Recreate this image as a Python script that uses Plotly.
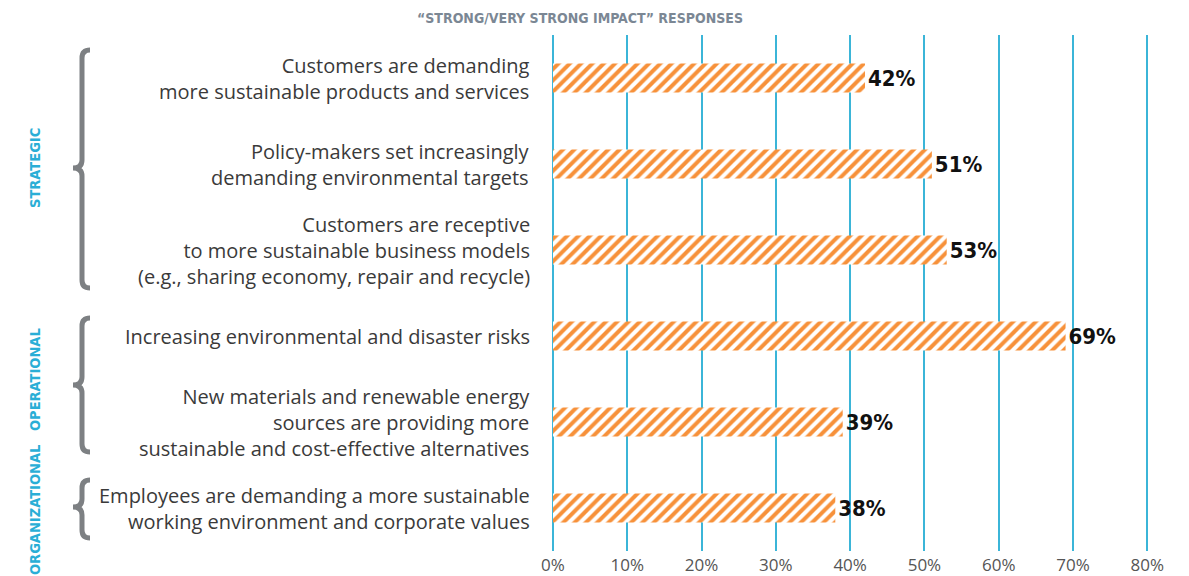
import plotly.graph_objects as go

categories = [
    "Customers are demanding<br>more sustainable products and services",
    "Policy-makers set increasingly<br>demanding environmental targets",
    "Customers are receptive<br>to more sustainable business models<br>(e.g., sharing economy, repair and recycle)",
    "Increasing environmental and disaster risks",
    "New materials and renewable energy<br>sources are providing more<br>sustainable and cost-effective alternatives",
    "Employees are demanding a more sustainable<br>working environment and corporate values",
]
values = [42, 51, 53, 69, 39, 38]
value_labels = ["42%", "51%", "53%", "69%", "39%", "38%"]
tick_vals = [0, 10, 20, 30, 40, 50, 60, 70, 80]
tick_text = ["0%", "10%", "20%", "30%", "40%", "50%", "60%", "70%", "80%"]
groups = ["STRATEGIC", "OPERATIONAL", "ORGANIZATIONAL"]

W, H = 1189, 576
L, T = 553, 35
PW = 598
PH = 516
R = W - L - PW
B = H - T - PH

def px(x):
    return (x - L) / PW

def py(y):
    return 1 - (y - T) / PH

NARROW = "DejaVu Sans Condensed"

fig = go.Figure()
ids = list(range(len(categories)))
fig.add_trace(go.Bar(
    y=ids, x=values, orientation="h", width=0.34,
    marker=dict(color="white", line=dict(width=0),
                pattern=dict(shape="/", fgcolor="#f7913a", bgcolor="white", fgopacity=1,
                             fillmode="replace", size=8, solidity=0.5)),
    text=value_labels, texttemplate="<b>%{text}</b>", textposition="outside", cliponaxis=False,
    textfont=dict(family=NARROW, size=22, color="#111111"),
    hoverinfo="skip",
))

annotations = []
for i, c in enumerate(categories):
    annotations.append(dict(x=0, xref="paper", y=i, yref="y", xanchor="right", yanchor="middle",
                            xshift=-21, text=c, showarrow=False, align="right",
                            font=dict(family="Open Sans", size=20, color="#3a3a3a")))

group_pos = [(35, 168), (35, 380), (35, 510)]
for g, (gx, gy) in zip(groups, group_pos):
    annotations.append(dict(x=px(gx), xref="paper", y=py(gy), yref="paper", text="<b>" + g + "</b>",
                            showarrow=False, textangle=-90, xanchor="center", yanchor="middle",
                            font=dict(family=NARROW, size=14.5, color="#2aaed6")))

annotations.append(dict(x=px(580), xref="paper", y=py(18), yref="paper",
                        text="<b>\u201cSTRONG/VERY STRONG IMPACT\u201d RESPONSES</b>",
                        showarrow=False, xanchor="center", yanchor="middle",
                        font=dict(family=NARROW, size=14, color="#7b8794")))

def brace(top, tip, bot, xv=82, xt=73, xe=90):
    pts = (f"M {px(xe)},{py(top)} Q {px(xv)},{py(top)} {px(xv)},{py(top+8)} "
           f"L {px(xv)},{py(tip-8)} Q {px(xv)},{py(tip)} {px(xt)},{py(tip)} "
           f"Q {px(xv)},{py(tip)} {px(xv)},{py(tip+8)} "
           f"L {px(xv)},{py(bot-8)} Q {px(xv)},{py(bot)} {px(xe)},{py(bot)}")
    return dict(type="path", xref="paper", yref="paper", path=pts,
                line=dict(color="#7d8083", width=5))

shapes = [brace(50, 168, 288), brace(318, 385, 452), brace(480, 507, 538)]

fig.update_layout(
    width=W, height=H,
    margin=dict(l=L, r=R, t=T, b=B),
    paper_bgcolor="white", plot_bgcolor="white",
    showlegend=False,
    bargap=0.66,
    xaxis=dict(range=[0, 80.5], tickvals=tick_vals, ticktext=tick_text, automargin=False,
               showgrid=True, gridcolor="#3bb5d8", gridwidth=1.5,
               zeroline=True, zerolinecolor="#3bb5d8", zerolinewidth=1.5,
               showline=False, ticks="", ticklabelstandoff=2,
               tickfont=dict(family="Open Sans", size=17, color="#555555")),
    yaxis=dict(range=[5.5, -0.5], showticklabels=False, showgrid=False, zeroline=False,
               showline=False, automargin=False),
    annotations=annotations, shapes=shapes,
)

fig.write_html("out.html", config={"displayModeBar": False},
               post_script="document.body.style.margin='0';")
